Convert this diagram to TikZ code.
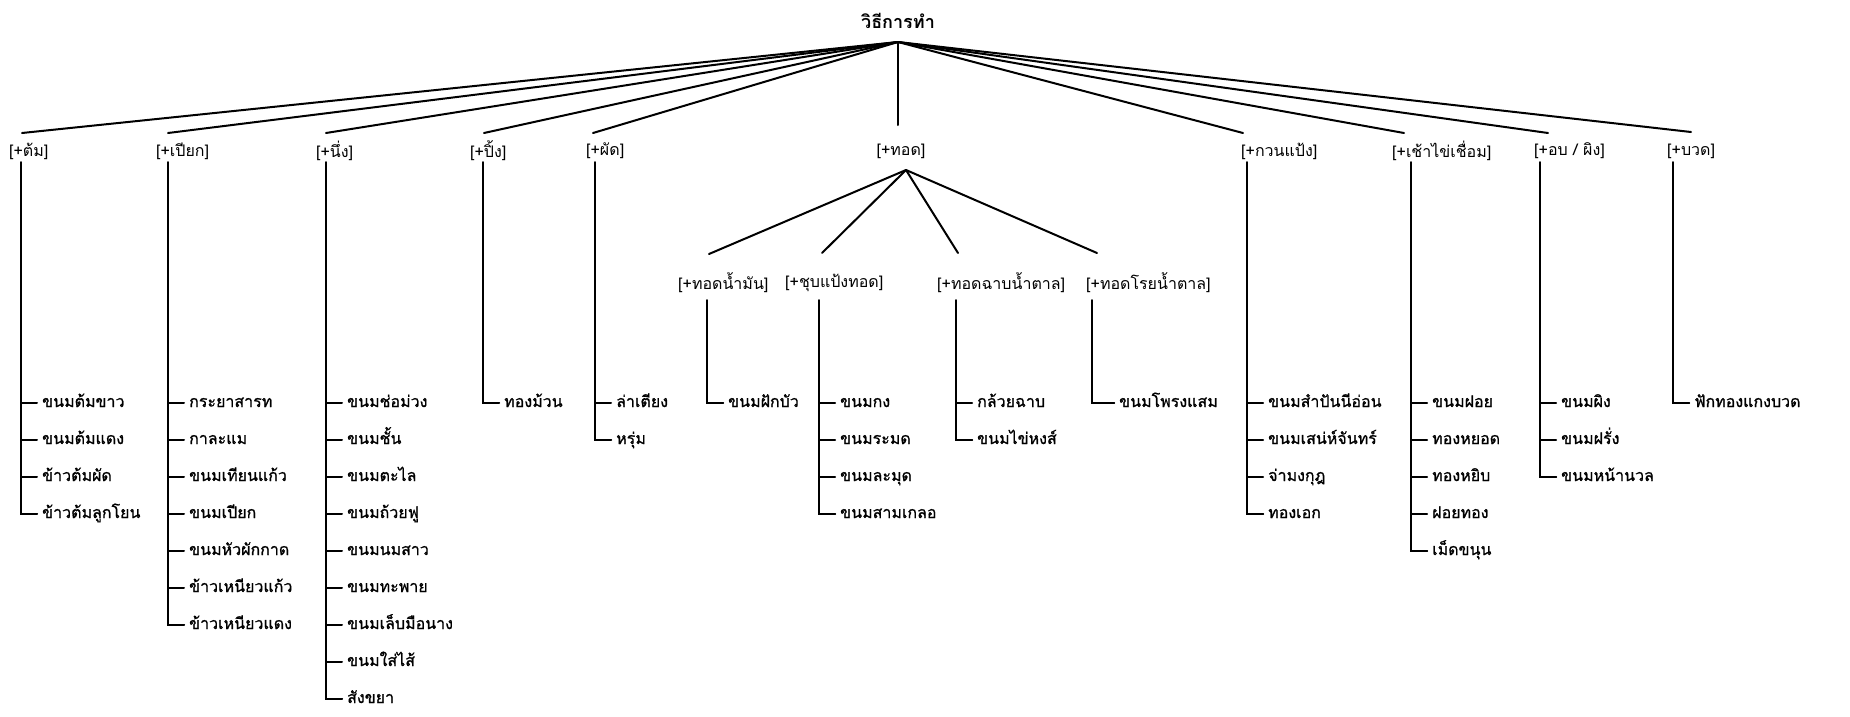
\documentclass[tikz,border=0pt]{standalone}
\usepackage{fontspec}
\setmainfont[Script=Thai]{Loma}
\newfontfamily\leaffamily[Script=Thai,FakeBold=1]{Loma}
\newcommand\itemfont{\fontsize{16}{19}\selectfont}
\newcommand\leaffont{\leaffamily\fontsize{16}{19}\selectfont}
\newcommand\headfont{\fontsize{18}{22}\selectfont\bfseries}

% trunk with its leaf items: #1 name, #2 trunk x, #3 trunk top y, #4 text offset, #5 items
\newcommand\leafcolumn[5]{%
  \coordinate (#1-top) at (#2,#3);
  \foreach \txt [count=\k] in {#5} {
    \node[leaf] (#1-\k) at (#2+#4, 403+37*\k-37) {\txt};
    \xdef\lastleaf{\k}
  }
  \draw[edge] (#1-top) |- (#1-\lastleaf.west);
  \foreach \k in {1,...,\lastleaf} {
    \draw[edge] (#1-top |- #1-\k.west) -- (#1-\k.west);
  }
}

\begin{document}
\begin{tikzpicture}[x=1pt,y=-1pt,
  edge/.style={line width=2pt,line cap=round},
  leaf/.style={anchor=west,inner xsep=5pt,inner ysep=0pt,text height=10pt,text depth=2pt,font=\leaffont},
  cat/.style={anchor=west,inner sep=0pt,font=\itemfont}]
\useasboundingbox (0,0) rectangle (1850,716);

% root
\node[font=\headfont] (root) at (898,21) {วิธีการทำ};
\coordinate (apex) at (898,42);

% first level categories
\node[cat] (ton)   at (9,151)    {[+ต้ม]};
\node[cat] (piak)  at (156,151)  {[+เปียก]};
\node[cat] (nueng) at (316,151)  {[+นึ่ง]};
\node[cat] (ping)  at (470,151)  {[+ปิ้ง]};
\node[cat] (phat)  at (586,151)  {[+ผัด]};
\node[cat,anchor=center] (tod) at (901,151) {[+ทอด]};
\node[cat] (kuan)  at (1241,151) {[+กวนแป้ง]};
\node[cat] (khai)  at (1392,151) {[+เช้าไข่เชื่อม]};
\node[cat] (op)    at (1534,151) {[+อบ / ผิง]};
\node[cat] (buat)  at (1667,151) {[+บวด]};

\coordinate (ton-end)   at (22,133);
\coordinate (piak-end)  at (168,133);
\coordinate (nueng-end) at (326,133);
\coordinate (ping-end)  at (484,133);
\coordinate (phat-end)  at (593,133);
\coordinate (tod-end)   at (898,125);
\coordinate (kuan-end)  at (1243,133);
\coordinate (khai-end)  at (1404,133);
\coordinate (op-end)    at (1548,133);
\coordinate (buat-end)  at (1691,132);

\foreach \n in {ton,piak,nueng,ping,phat,tod,kuan,khai,op,buat}
  \draw[edge] (apex) -- (\n-end);

% sub categories of frying
\coordinate (todapex) at (906,170);
\node[cat] (nammun) at (678,283)  {[+ทอดน้ำมัน]};
\node[cat] (chup)   at (785,283)  {[+ชุบแป้งทอด]};
\node[cat] (chab)   at (937,283)  {[+ทอดฉาบน้ำตาล]};
\node[cat] (roi)    at (1086,283) {[+ทอดโรยน้ำตาล]};
\coordinate (nammun-end) at (709,254);
\coordinate (chup-end)   at (822,253);
\coordinate (chab-end)   at (958,253);
\coordinate (roi-end)    at (1097,253);
\foreach \n in {nammun,chup,chab,roi}
  \draw[edge] (todapex) -- (\n-end);

% leaves
\leafcolumn{tonL}{21}{162}{16}{ขนมต้มขาว,ขนมต้มแดง,ข้าวต้มผัด,ข้าวต้มลูกโยน}
\leafcolumn{piakL}{168}{162}{16}{กระยาสารท,กาละแม,ขนมเทียนแก้ว,ขนมเปียก,ขนมหัวผักกาด,ข้าวเหนียวแก้ว,ข้าวเหนียวแดง}
\leafcolumn{nuengL}{326}{162}{16}{ขนมช่อม่วง,ขนมชั้น,ขนมตะไล,ขนมถ้วยฟู,ขนมนมสาว,ขนมทะพาย,ขนมเล็บมือนาง,ขนมใส่ไส้,สังขยา}
\leafcolumn{pingL}{483}{162}{16}{ทองม้วน}
\leafcolumn{phatL}{595}{162}{16}{ล่าเตียง,หรุ่ม}
\leafcolumn{nammunL}{707}{300}{16}{ขนมฝักบัว}
\leafcolumn{chupL}{819}{300}{16}{ขนมกง,ขนมระมด,ขนมละมุด,ขนมสามเกลอ}
\leafcolumn{chabL}{956}{300}{16}{กล้วยฉาบ,ขนมไข่หงส์}
\leafcolumn{roiL}{1092}{300}{22}{ขนมโพรงแสม}
\leafcolumn{kuanL}{1247}{162}{16}{ขนมสำปันนีอ่อน,ขนมเสน่ห์จันทร์,จ่ามงกุฎ,ทองเอก}
\leafcolumn{khaiL}{1411}{162}{16}{ขนมฝอย,ทองหยอด,ทองหยิบ,ฝอยทอง,เม็ดขนุน}
\leafcolumn{opL}{1540}{162}{16}{ขนมผิง,ขนมฝรั่ง,ขนมหน้านวล}
\leafcolumn{buatL}{1673}{162}{16}{ฟักทองแกงบวด}
\end{tikzpicture}
\end{document}
